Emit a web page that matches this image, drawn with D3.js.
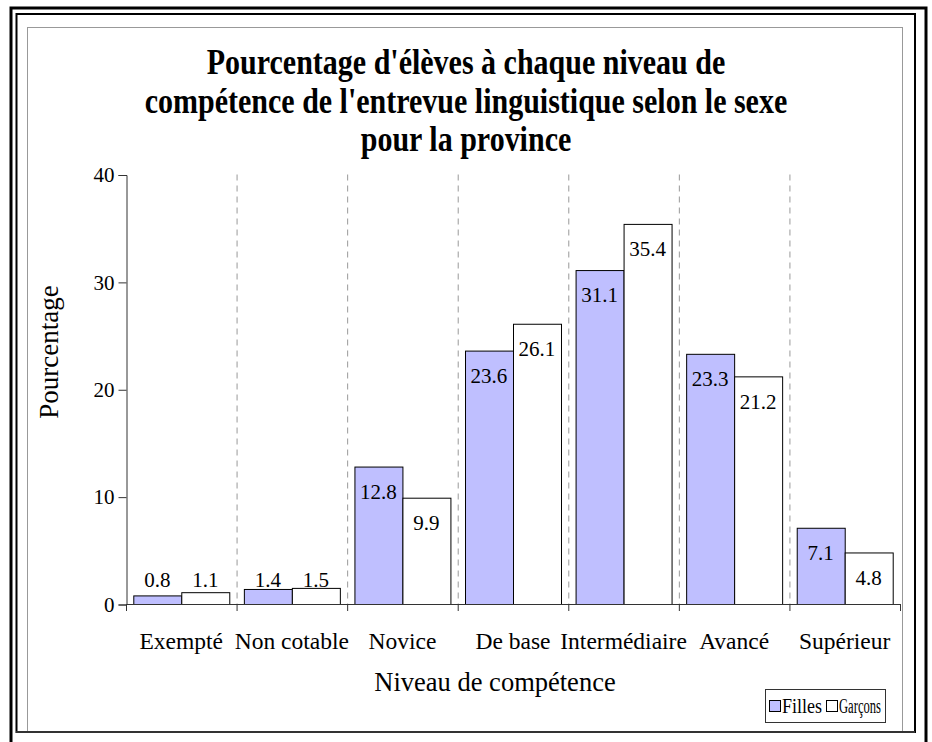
<!DOCTYPE html>
<html><head><meta charset="utf-8">
<script src="https://cdn.jsdelivr.net/npm/d3@7"></script>
<style>body{margin:0;background:#fff;} svg{display:block;}</style>
</head><body>
<svg id="c" width="932" height="742"></svg>
<script>
const categories = ["Exempté","Non cotable","Novice","De base","Intermédiaire","Avancé","Supérieur"];
const series = ["Filles","Garçons"];
const filles = [0.8,1.4,12.8,23.6,31.1,23.3,7.1];
const garcons = [1.1,1.5,9.9,26.1,35.4,21.2,4.8];
const yTicks = [0,10,20,30,40];
const titleLines = ["Pourcentage d'élèves à chaque niveau de","compétence de l'entrevue linguistique selon le sexe","pour la province"];
const colors = {"Filles":"#BFBFFF","Garçons":"#FFFFFF"};

const svg = d3.select("#c");
const font = "'Liberation Serif','Times New Roman',serif";

// frames
svg.append("rect").attr("x",11).attr("y",8).attr("width",915).attr("height",760).attr("fill","none").attr("stroke","#000").attr("stroke-width",3);
svg.append("rect").attr("x",16.5).attr("y",14).attr("width",898.5).attr("height",718).attr("fill","none").attr("stroke","#000").attr("stroke-width",2);
svg.append("rect").attr("x",27.5).attr("y",27.5).attr("width",875).attr("height",705).attr("fill","none").attr("stroke","#999").attr("stroke-width",1);
svg.append("line").attr("x1",16).attr("x2",915).attr("y1",732).attr("y2",732).attr("stroke","#333").attr("stroke-width",2);

const data = categories.map((c,i)=>({cat:c, Filles:filles[i], "Garçons":garcons[i]}));

const x0 = d3.scaleBand().domain(categories).range([126,900]).paddingInner(0).paddingOuter(0);
const x1 = d3.scaleBand().domain(series).range([0,x0.bandwidth()]).paddingInner(0).paddingOuter(0.152);
const y = d3.scaleLinear().domain([0,40]).range([604,174.5]);

// title (glyphs slightly taller than wide, as in the reference)
svg.append("g").selectAll("text").data(titleLines).join("text")
  .attr("transform",(d,i)=>`translate(466,${74+i*38.5}) scale(1,1.2)`)
  .attr("text-anchor","middle").attr("font-family",font).attr("font-weight","bold").attr("font-size",30)
  .attr("fill","#000").text(d=>d);

// gridlines (dashed at category boundaries)
const bounds = categories.slice(1).map(c=>x0(c));
svg.append("g").selectAll("line").data(bounds).join("line")
  .attr("x1",d=>d+0.5).attr("x2",d=>d+0.5).attr("y1",y(40)).attr("y2",y(0))
  .attr("stroke","#999").attr("stroke-dasharray","6,5").attr("stroke-width",1);

// bars
const g = svg.append("g");
g.selectAll("g").data(data).join("g")
  .attr("transform",d=>`translate(${x0(d.cat)},0)`)
  .selectAll("rect").data(d=>series.map(s=>({s, v:d[s]}))).join("rect")
  .attr("x",d=>x1(d.s)+0.5).attr("width",x1.bandwidth())
  .attr("y",d=>y(d.v)+0.5).attr("height",d=>y(0)-y(d.v))
  .attr("fill",d=>colors[d.s]).attr("stroke","#000").attr("stroke-width",1);

// value labels
g.selectAll("g.lbl").data(data).join("g").attr("class","lbl")
  .attr("transform",d=>`translate(${x0(d.cat)},0)`)
  .selectAll("text").data(d=>series.map(s=>({s, v:d[s]}))).join("text")
  .attr("x",d=>x1(d.s)+x1.bandwidth()/2).attr("y",d=>Math.min(y(d.v)+25, y(0)-24))
  .attr("dy","0.35em").attr("text-anchor","middle").attr("font-family",font).attr("font-size",21)
  .attr("fill","#000").text(d=>d.v.toFixed(1));

// y axis
const yAxis = d3.axisLeft(y).tickValues(yTicks).tickSize(8).tickPadding(4).tickFormat(d3.format("d"));
const ya = svg.append("g").attr("transform","translate(126.5,0.5)").call(yAxis);
ya.select(".domain").attr("stroke","#333");
ya.selectAll(".tick line").attr("stroke","#333");
ya.selectAll("text").attr("font-family",font).attr("font-size",21).attr("fill","#000");

// x axis
svg.append("line").attr("x1",126).attr("x2",900).attr("y1",y(0)+0.5).attr("y2",y(0)+0.5).attr("stroke","#333");
svg.append("g").selectAll("line").data(categories.map(c=>x0(c)).concat([x0.range()[1]])).join("line")
  .attr("x1",d=>d+0.5).attr("x2",d=>d+0.5).attr("y1",y(0)).attr("y2",y(0)+7).attr("stroke","#333");
svg.append("g").selectAll("text").data(categories).join("text")
  .attr("x",d=>x0(d)+x0.bandwidth()/2).attr("y",649)
  .attr("text-anchor","middle").attr("font-family",font).attr("font-size",23.5).attr("fill","#000").text(d=>d);

// axis titles
svg.append("text").attr("x",495).attr("y",691).attr("text-anchor","middle").attr("font-family",font).attr("font-size",26.5).attr("fill","#000").text("Niveau de compétence");
svg.append("text").attr("transform","translate(58,352) rotate(-90)").attr("text-anchor","middle").attr("font-family",font).attr("font-size",27).attr("fill","#000").text("Pourcentage");

// legend
const lg = svg.append("g");
lg.append("rect").attr("x",765.5).attr("y",689.5).attr("width",120).attr("height",33).attr("fill","#fff").attr("stroke","#333");
const legPos = [{sx:769, tx:782, tl:40},{sx:826, tx:839, tl:42}];
const li = lg.selectAll("g").data(series).join("g");
li.append("rect").attr("x",(d,i)=>legPos[i].sx+0.5).attr("y",700.5).attr("width",11).attr("height",11).attr("fill",d=>colors[d]).attr("stroke","#000");
li.append("text").attr("x",(d,i)=>legPos[i].tx).attr("y",713).attr("font-family",font).attr("font-size",20)
  .attr("textLength",(d,i)=>legPos[i].tl).attr("lengthAdjust","spacingAndGlyphs").attr("fill","#000").text(d=>d);
</script>
</body></html>
